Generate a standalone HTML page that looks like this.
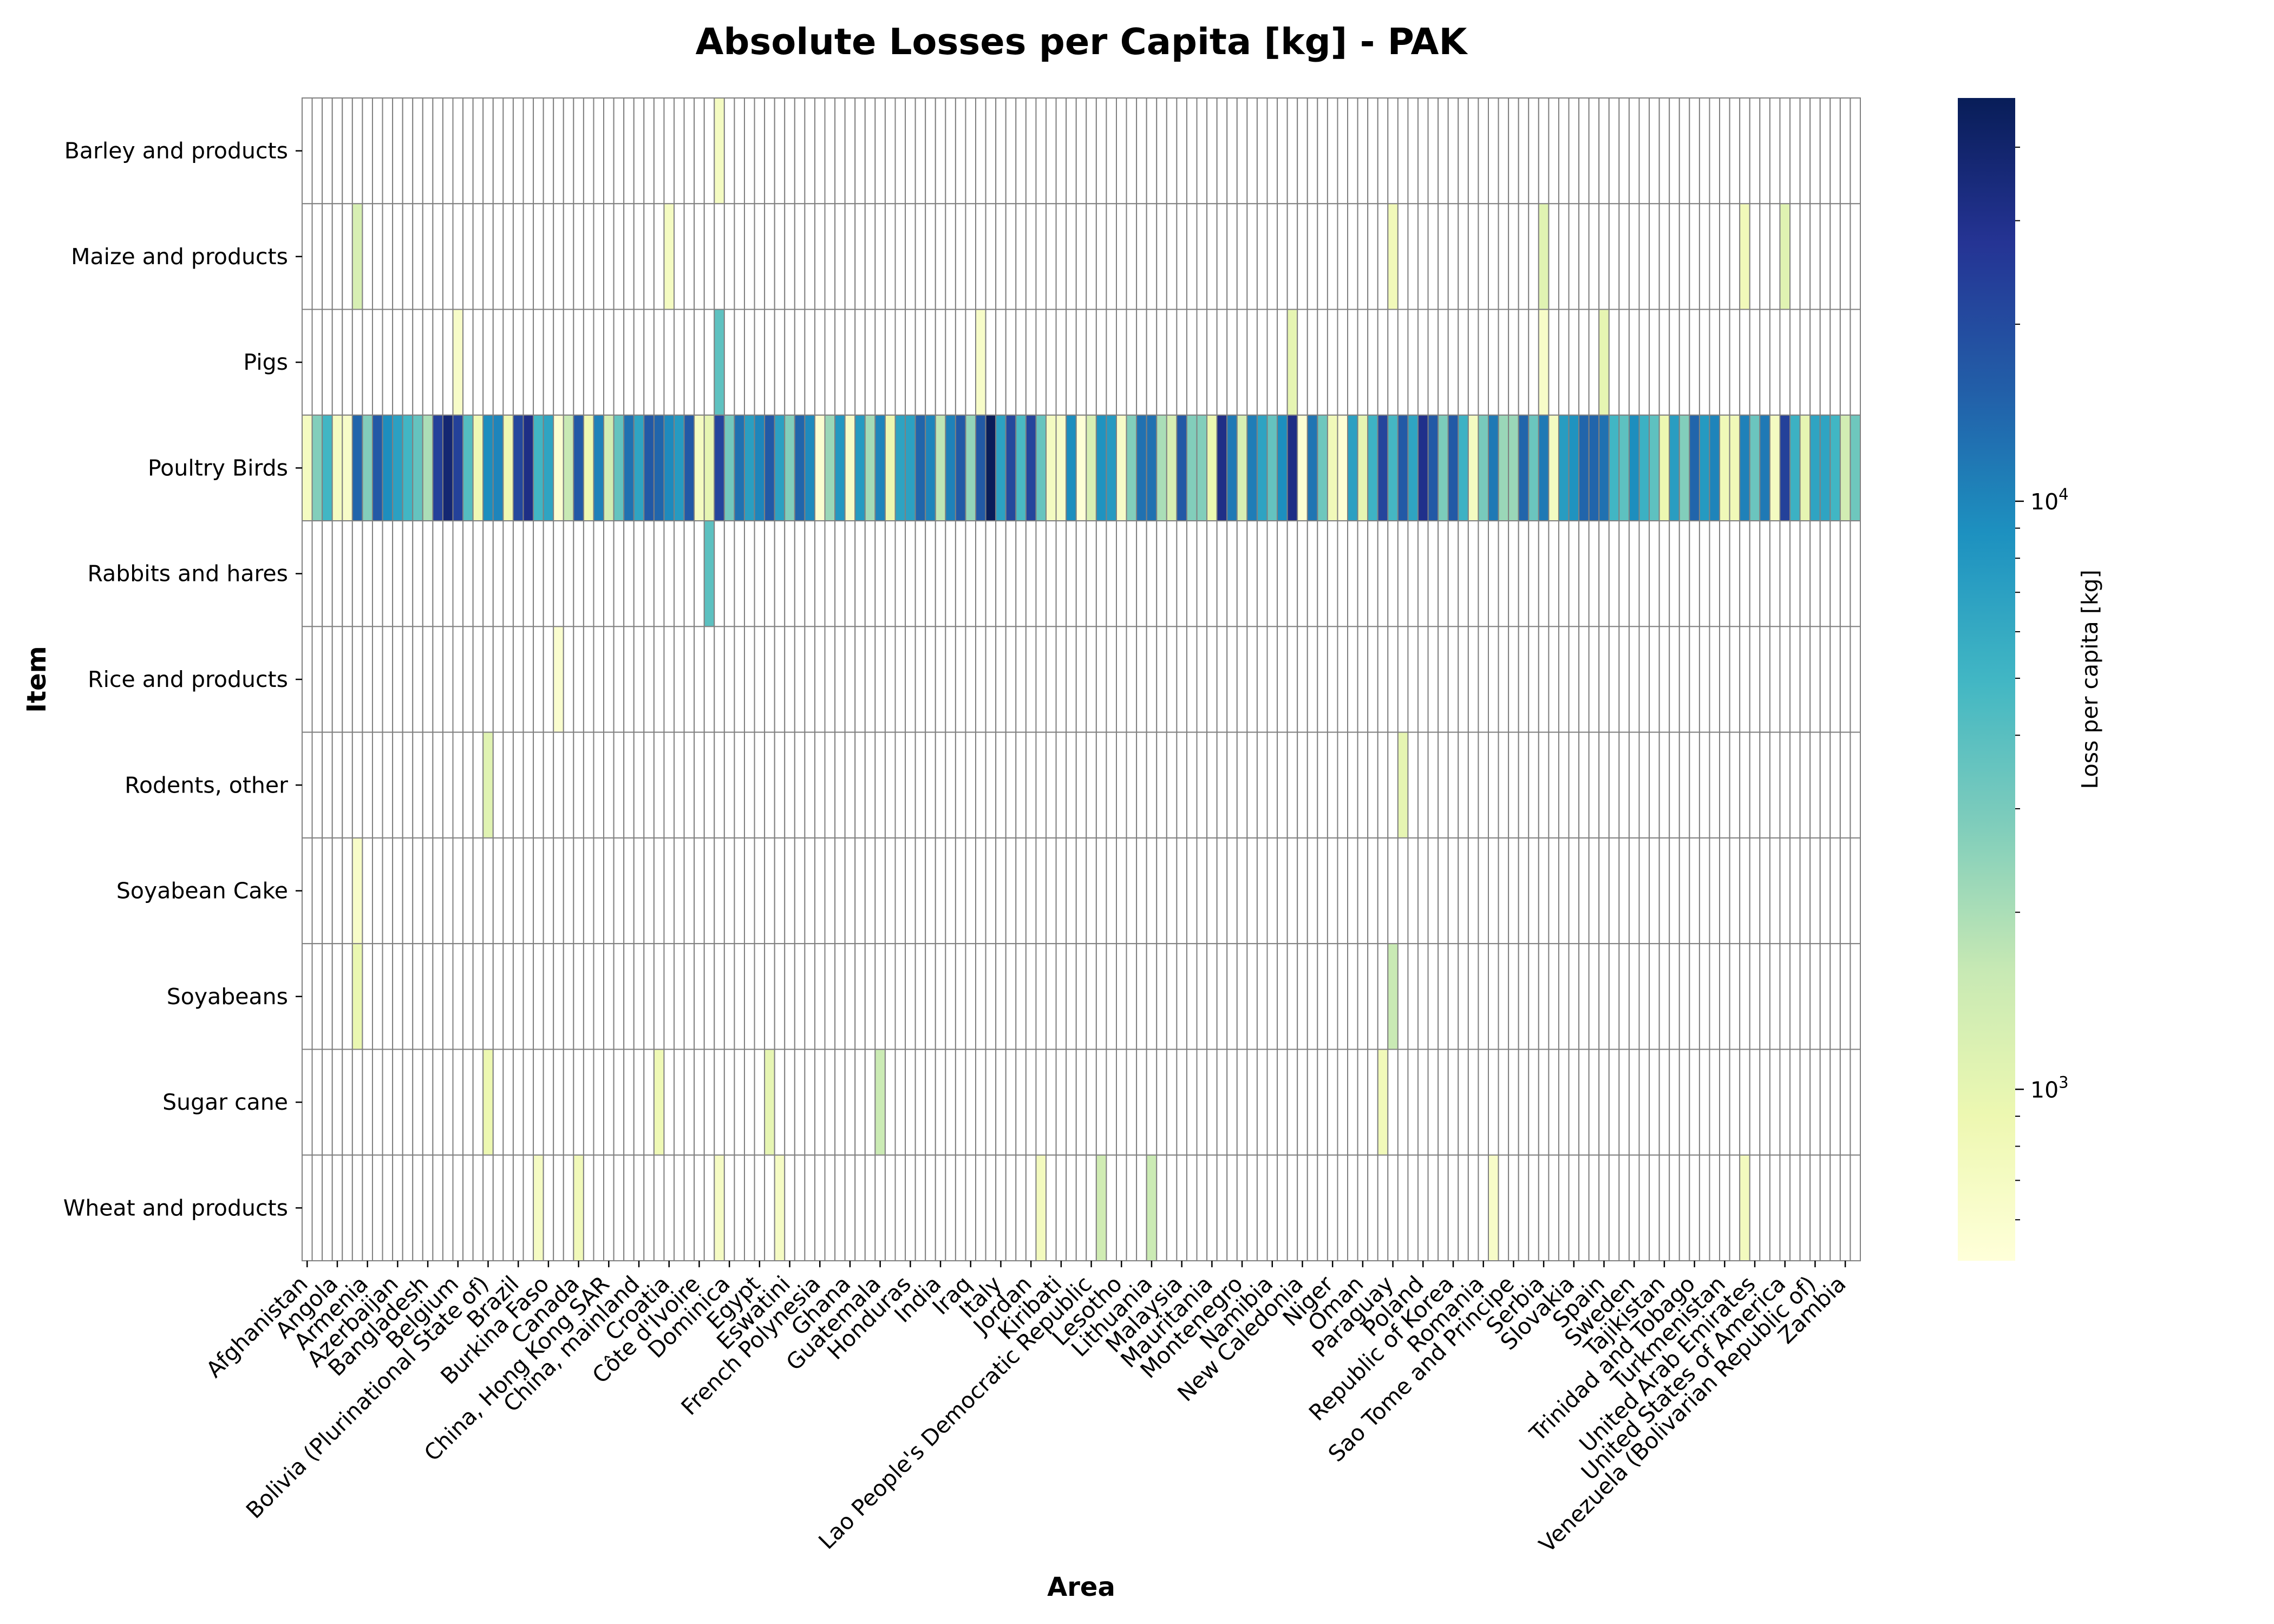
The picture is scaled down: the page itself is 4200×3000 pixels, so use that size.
<!DOCTYPE html>
<html><head><meta charset="utf-8"><style>
html,body{margin:0;padding:0;background:#fff;}
svg{display:block;font-family:"DejaVu Sans","Liberation Sans",sans-serif;}
</style></head><body>
<svg id="chart" width="4200" height="3000" viewBox="0 0 4200 3000" xmlns="http://www.w3.org/2000/svg">
<text x="1997" y="100" text-anchor="middle" font-size="67" font-weight="bold">Absolute Losses per Capita [kg] - PAK</text>
<text x="1997" y="2948" text-anchor="middle" font-size="48" font-weight="bold">Area</text>
<text transform="translate(84,1255) rotate(-90)" text-anchor="middle" font-size="48" font-weight="bold">Item</text>
<g id="cells"></g>
<g id="xticks"></g>
<g id="yticks"></g>
<defs><linearGradient id="cbgrad" x1="0" y1="1" x2="0" y2="0"></linearGradient></defs>
<rect x="3616" y="181" width="106" height="2148" fill="url(#cbgrad)"/>
<g id="cbticks"></g>
<text transform="translate(3874,1255) rotate(-90)" text-anchor="middle" font-size="41">Loss per capita [kg]</text>
</svg>
<script>
const items = ["Barley and products","Maize and products","Pigs","Poultry Birds","Rabbits and hares","Rice and products","Rodents, other","Soyabean Cake","Soyabeans","Sugar cane","Wheat and products"];
const areaLabels = ["Afghanistan","Angola","Armenia","Azerbaijan","Bangladesh","Belgium","Bolivia (Plurinational State of)","Brazil","Burkina Faso","Canada","China, Hong Kong SAR","China, mainland","Croatia","Côte d'Ivoire","Dominica","Egypt","Eswatini","French Polynesia","Ghana","Guatemala","Honduras","India","Iraq","Italy","Jordan","Kiribati","Lao People's Democratic Republic","Lesotho","Lithuania","Malaysia","Mauritania","Montenegro","Namibia","New Caledonia","Niger","Oman","Paraguay","Poland","Republic of Korea","Romania","Sao Tome and Principe","Serbia","Slovakia","Spain","Sweden","Tajikistan","Trinidad and Tobago","Turkmenistan","United Arab Emirates","United States of America","Venezuela (Bolivarian Republic of)","Zambia"];
const labelStep = 3;
const poultryValues = [723,2745,5000,723,650,14450,2745,16600,9120,7000,5000,3625,1990,23000,38000,23000,4165,850,9120,10000,880,21000,31550,5000,6580,574,1581,16600,880,10500,1350,3625,12500,6580,16600,14450,9500,7600,16600,
723,1000,21880,3155,12500,7210,10000,16600,7000,2745,14450,9500,574,2284,8000,650,7600,2100,10000,900,6700,6900,14450,10000,1700,10500,16600,2400,16600,48000,6900,21000,4600,21880,3500,723,650,9120,530,1256,
8500,7600,650,2745,12500,12500,2000,1256,16600,2745,2745,900,31000,11480,1256,11000,6700,3625,9000,31550,560,12000,3300,800,550,7000,1000,5200,21880,4800,16600,6580,30000,16600,2900,16600,5300,723,3000,
11480,2284,2284,14450,3400,11480,723,7400,8500,14450,14450,12500,5000,3800,9120,5400,3800,900,7300,2745,14450,7700,10200,820,820,10500,3400,11480,723,23000,5400,1000,6580,6580,5000,1350,3300];
const sparseItem = [0, 1,1,1,1,1,1, 2,2,2,2,2,2, 4, 5, 6,6, 7, 8,8, 9,9,9,9,9, 10,10,10,10,10,10,10,10,10];
const sparseCol  = [41, 5,36,108,123,143,147, 15,41,67,98,123,129, 40, 25, 18,109, 5, 5,108, 18,35,46,57,107, 23,27,41,47,73,79,84,118,143];
const sparseVal  = [723, 1256,723,800,1100,800,1100, 650,3800,650,1000,650,1000, 3900, 600, 1100,1000, 650, 950,1550, 900,850,1000,1500,800, 700,800,700,700,750,1400,1500,650,750];
const cbMajor = [1000,10000];
const cbMinor = [600,700,800,900,2000,3000,4000,5000,6000,7000,8000,9000,20000,30000,40000];

const VMIN = 511, VMAX = 48500;
const X0 = 558, X1 = 3436, Y0 = 181, Y1 = 2329;
const nCols = poultryValues.length, nRows = items.length;
const cw = (X1 - X0) / nCols, rh = (Y1 - Y0) / nRows;
const stops = ["#ffffd9","#edf8b1","#c7e9b4","#7fcdbb","#41b6c4","#1d91c0","#225ea8","#253494","#081d58"];
function hex(h){return [parseInt(h.substr(1,2),16),parseInt(h.substr(3,2),16),parseInt(h.substr(5,2),16)];}
function cmap(t){t=Math.max(0,Math.min(1,t));const p=t*8,i=Math.min(7,Math.floor(p)),f=p-i;const a=hex(stops[i]),b=hex(stops[i+1]);return "rgb("+a.map((v,k)=>Math.round(v+(b[k]-v)*f)).join(",")+")";}
function norm(v){return (Math.log10(v)-Math.log10(VMIN))/(Math.log10(VMAX)-Math.log10(VMIN));}
function xPos(c){return X0 + c*cw;}
function yPos(r){return Y0 + r*rh;}
function cbY(v){return Y1 - norm(v)*(Y1-Y0);}
const NS="http://www.w3.org/2000/svg";
function mk(tag,attrs,parent){const e=document.createElementNS(NS,tag);for(const k in attrs)e.setAttribute(k,attrs[k]);parent.appendChild(e);return e;}

const grid=[];for(let r=0;r<nRows;r++){grid.push(new Array(nCols).fill(null));}
const pIdx = items.indexOf("Poultry Birds");
poultryValues.forEach((v,c)=>{grid[pIdx][c]=v;});
sparseItem.forEach((r,i)=>{grid[r][sparseCol[i]]=sparseVal[i];});

const cells=document.getElementById("cells");
for(let r=0;r<nRows;r++){for(let c=0;c<nCols;c++){
  const v=grid[r][c];
  const el=mk("rect",{x:xPos(c).toFixed(2),y:yPos(r).toFixed(2),width:cw.toFixed(2),height:rh.toFixed(2),fill:v==null?"#ffffff":cmap(norm(v)),stroke:"#808080","stroke-width":2},cells);
  
  
}}

const xt=document.getElementById("xticks");
areaLabels.forEach((lab,i)=>{
  const c=i*labelStep, x=xPos(c+0.5);
  const tk=mk("line",{x1:x,x2:x,y1:Y1,y2:Y1+12,stroke:"#000","stroke-width":2.5},xt);
  
  
  const t=mk("text",{transform:"translate("+(x-18)+","+(Y1+24)+") rotate(-45)","text-anchor":"end","dominant-baseline":"hanging","font-size":41},xt);
  t.textContent=lab;
  
  
});
const yt=document.getElementById("yticks");
items.forEach((lab,r)=>{
  const y=yPos(r+0.5);
  const tk=mk("line",{x1:X0-12,x2:X0,y1:y,y2:y,stroke:"#000","stroke-width":2.5},yt);
  
  
  const t=mk("text",{x:X0-26,y:y+14,"text-anchor":"end","font-size":41},yt);
  t.textContent=lab;
  
  
});
const g=document.getElementById("cbgrad");
for(let i=0;i<=40;i++){mk("stop",{offset:(i/40),"stop-color":cmap(i/40)},g);}
const cbt=document.getElementById("cbticks");
cbMinor.forEach(v=>{const y=cbY(v);const l=mk("line",{x1:3722,x2:3731,y1:y,y2:y,stroke:"#000","stroke-width":2},cbt);
  
  });
cbMajor.forEach(v=>{const y=cbY(v);const l=mk("line",{x1:3722,x2:3738,y1:y,y2:y,stroke:"#000","stroke-width":2.5},cbt);
  
  
  const t=mk("text",{x:3750,y:y+15,"font-size":41},cbt);
  const exp=Math.round(Math.log10(v));
  t.textContent="10";
  const s=mk("tspan",{dy:-18,"font-size":29},t);s.textContent=String(exp);
  
  });
</script>
</body></html>
